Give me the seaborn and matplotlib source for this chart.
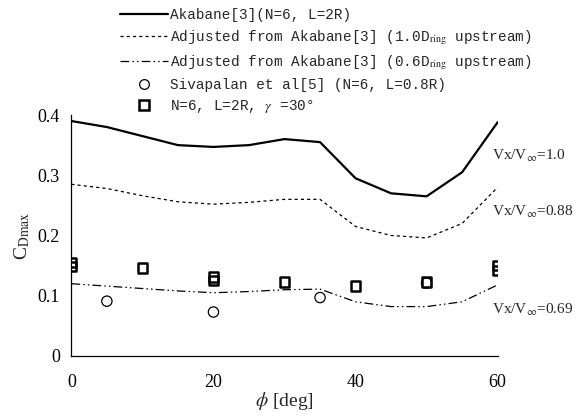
import numpy as np
import pandas as pd
import seaborn as sns
import matplotlib.pyplot as plt
from matplotlib.lines import Line2D

sns.set_theme(style="white")
plt.rcParams['font.family'] = ['Liberation Serif', 'DejaVu Serif']
plt.rcParams['mathtext.fontset'] = 'stix'

# Akabane[3] curves (phi in deg)
phi_curve = [0, 5, 10, 15, 20, 25, 30, 35, 40, 45, 50, 55, 60]
cd_v100 = [0.390, 0.380, 0.365, 0.350, 0.347, 0.350, 0.360, 0.355, 0.295, 0.270, 0.265, 0.305, 0.388]
cd_v088 = [0.285, 0.278, 0.266, 0.256, 0.252, 0.255, 0.260, 0.260, 0.215, 0.200, 0.196, 0.220, 0.280]
cd_v069 = [0.120, 0.116, 0.112, 0.108, 0.105, 0.107, 0.110, 0.111, 0.090, 0.082, 0.082, 0.090, 0.118]

# Sivapalan et al[5]
phi_siva = [5, 20, 35, 50]
cd_siva = [0.091, 0.073, 0.097, 0.121]

# N=6, L=2R, gamma=30 deg
phi_sq = [0, 0, 10, 20, 20, 30, 40, 50, 60, 60]
cd_sq = [0.148, 0.155, 0.146, 0.125, 0.131, 0.123, 0.116, 0.123, 0.142, 0.150]

curve_labels = ["Vx/V$_{\\infty}$=1.0", "Vx/V$_{\\infty}$=0.88", "Vx/V$_{\\infty}$=0.69"]
legend_labels = [
    "Akabane[3](N=6, L=2R)",
    "Adjusted from Akabane[3] (1.0D$_{\\mathrm{ring}}$ upstream)",
    "Adjusted from Akabane[3] (0.6D$_{\\mathrm{ring}}$ upstream)",
    "Sivapalan et al[5] (N=6, L=0.8R)",
    "N=6, L=2R, $\\gamma$ =30°",
]

curves = pd.DataFrame({"phi": phi_curve, "v100": cd_v100, "v088": cd_v088, "v069": cd_v069})
siva = pd.DataFrame({"phi": phi_siva, "cd": cd_siva})
sq = pd.DataFrame({"phi": phi_sq, "cd": cd_sq})

fig = plt.figure(figsize=(5.81, 4.18), dpi=100)
ax = fig.add_axes([71 / 581, 1 - 356 / 418, (498 - 71) / 581, (356 - 115) / 418])

dash_88 = (0, (2.5, 2.5))
dash_69 = (0, (7, 2.5, 1.2, 2.5, 1.2, 2.5))

sns.lineplot(data=curves, x="phi", y="v100", ax=ax, color="black", lw=1.6)
sns.lineplot(data=curves, x="phi", y="v088", ax=ax, color="black", lw=0.9,
             linestyle=dash_88)
sns.lineplot(data=curves, x="phi", y="v069", ax=ax, color="black", lw=0.9,
             linestyle=dash_69)
sns.scatterplot(data=siva, x="phi", y="cd", ax=ax, marker="o", s=55,
                facecolor="none", edgecolor="black", linewidth=0.9, zorder=3)
sns.scatterplot(data=sq, x="phi", y="cd", ax=ax, marker="s", s=45,
                facecolor="none", edgecolor="black", linewidth=1.8, zorder=3)

ax.set_xlim(-0.05, 60.05)
ax.set_ylim(0, 0.4)
ax.set_xticks([0, 20, 40, 60])
ax.set_xticklabels(["0", "20", "40", "60"])
ax.set_yticks([0, 0.1, 0.2, 0.3, 0.4])
ax.set_yticklabels(["0", "0.1", "0.2", "0.3", "0.4"])
ax.tick_params(axis="both", direction="in", length=5, width=0.8, labelsize=13,
               colors="black")
ax.tick_params(axis="x", pad=13, length=3)
ax.tick_params(axis="y", pad=8)
for side in ("top", "right"):
    ax.spines[side].set_visible(False)
for side in ("left", "bottom"):
    ax.spines[side].set_color("black")
    ax.spines[side].set_linewidth(0.9)

ax.set_xlabel("$\\phi$ [deg]", fontsize=14, labelpad=-1)
ax.set_ylabel("C$_{\\mathrm{Dmax}}$", fontsize=14, labelpad=4)

for lab, y in zip(curve_labels, [0.332, 0.239, 0.076]):
    ax.text(59.2, y, lab, fontsize=11, ha="left", va="center", clip_on=False)

handles = [
    Line2D([], [], color="black", lw=1.6),
    Line2D([], [], color="black", lw=0.9, linestyle=dash_88),
    Line2D([], [], color="black", lw=0.9, linestyle=dash_69),
    Line2D([], [], color="black", lw=0, marker="o", markersize=7,
           markerfacecolor="none", markeredgewidth=0.9),
    Line2D([], [], color="black", lw=0, marker="s", markersize=6.5,
           markerfacecolor="none", markeredgewidth=1.8),
]
fig.legend(handles, legend_labels, loc="upper left",
           bbox_to_anchor=(120 / 581, 1 - 8 / 418), frameon=False,
           prop={"family": ["Liberation Mono", "DejaVu Sans Mono"], "size": 10.4},
           handlelength=3.3, handletextpad=0.15, labelspacing=0.42,
           borderaxespad=0, borderpad=0)

fig.savefig("out.png", dpi=100)
